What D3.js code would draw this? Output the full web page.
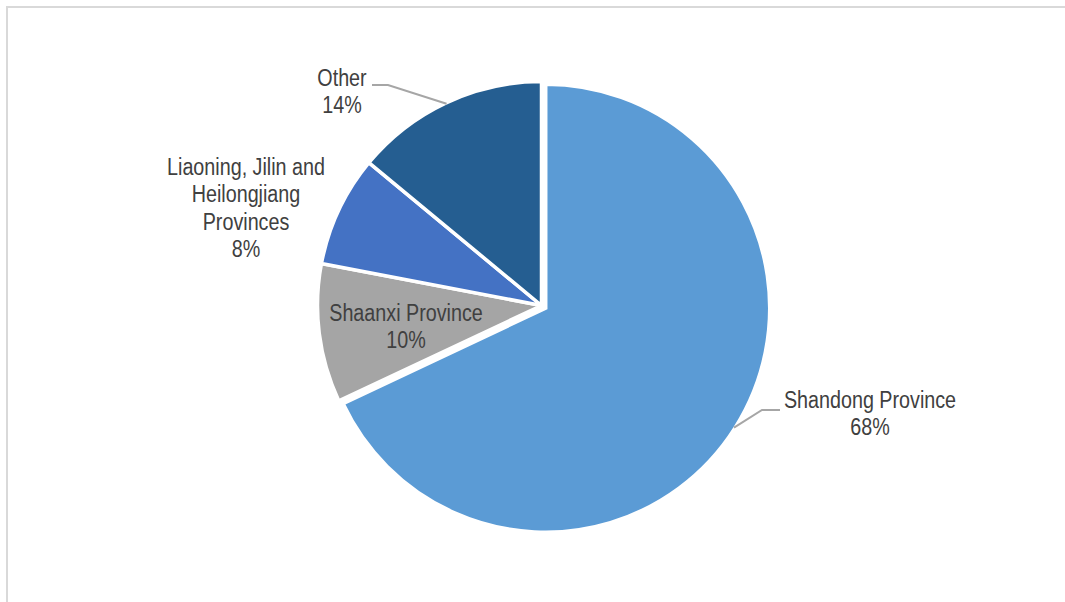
<!DOCTYPE html>
<html>
<head>
<meta charset="utf-8">
<script src="https://cdn.jsdelivr.net/npm/d3@7"></script>
<style>
html,body{margin:0;padding:0;background:#fff;}
svg{display:block;}
</style>
</head>
<body>
<svg id="chart" width="1065" height="602"></svg>
<script>
// ---- data ----
const categories = ["Shandong Province", "Shaanxi Province", "Liaoning, Jilin and Heilongjiang Provinces", "Other"];
const values = [68, 10, 8, 14];
const labelLines = [
  ["Shandong Province", "68%"],
  ["Shaanxi Province", "10%"],
  ["Liaoning, Jilin and", "Heilongjiang", "Provinces", "8%"],
  ["Other", "14%"]
];
const colors = ["#5B9BD5", "#A5A5A5", "#4472C4", "#255E91"];

// ---- layout ----
const W = 1065, H = 602;
const cx = 541.5, cy = 305.5, R = 224;
const explode = [5, 0, 0, 0];
const font = "'Liberation Sans Narrow', 'Arial Narrow', 'Liberation Sans', Arial, sans-serif";
const fontSize = 23.5, lineH = 27.5, squeeze = 0.84;
// label anchor (center x, first baseline y) and leader elbow/end per slice
const labelPos = [
  {x: 870, y: 408, leader: [[780, 410], [762, 410]]},
  {x: 406, y: 321, leader: null},
  {x: 246, y: 175, leader: null},
  {x: 342, y: 86, leader: [[372, 85], [388, 85]]}
];

const svg = d3.select("#chart");

// frame
svg.append("rect")
  .attr("x", 7).attr("y", 7)
  .attr("width", W + 20).attr("height", H + 20)
  .attr("fill", "none").attr("stroke", "#d9d9d9").attr("stroke-width", 2);

const pie = d3.pie().sort(null).value(d => d)
  .startAngle(0).endAngle(2 * Math.PI);
const arcs = pie(values);
const arc = d3.arc().innerRadius(0).outerRadius(R);

const g = svg.append("g").attr("transform", `translate(${cx},${cy})`);

g.selectAll("path.slice")
  .data(arcs)
  .join("path")
  .attr("class", "slice")
  .attr("transform", (d, i) => {
    const a = (d.startAngle + d.endAngle) / 2;
    return `translate(${Math.sin(a) * explode[i]},${-Math.cos(a) * explode[i]})`;
  })
  .attr("d", arc)
  .attr("fill", (d, i) => colors[i])
  .attr("stroke", "#fff")
  .attr("stroke-width", 3.5)
  .attr("stroke-linejoin", "miter");

// leader lines
arcs.forEach((d, i) => {
  const lp = labelPos[i];
  if (!lp.leader) return;
  const a = (d.startAngle + d.endAngle) / 2;
  const rr = R + explode[i] - 1;
  const sx = cx + Math.sin(a) * rr, sy = cy - Math.cos(a) * rr;
  const pts = [[sx, sy], lp.leader[1], lp.leader[0]];
  svg.append("path")
    .attr("d", d3.line()(pts))
    .attr("fill", "none")
    .attr("stroke", "#a6a6a6")
    .attr("stroke-width", 2);
});

// labels
labelLines.forEach((lines, i) => {
  const lp = labelPos[i];
  const t = svg.append("text")
    .attr("transform", `translate(${lp.x},0) scale(${squeeze},1)`)
    .attr("font-family", font)
    .attr("font-size", fontSize)
    .attr("fill", "#404040")
    .attr("text-anchor", "middle");
  lines.forEach((ln, k) => {
    t.append("tspan").attr("x", 0).attr("y", lp.y + k * lineH).text(ln);
  });
});
</script>
</body>
</html>
